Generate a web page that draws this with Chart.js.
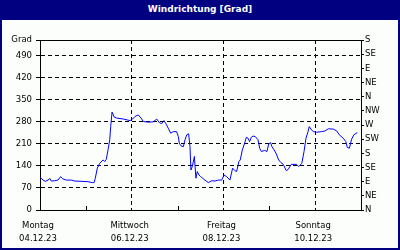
<!DOCTYPE html>
<html>
<head>
<meta charset="utf-8">
<script src="https://cdn.jsdelivr.net/npm/chart.js@4.4.0/dist/chart.umd.min.js"></script>
<style>
  body { margin: 0; }
  #frame { position: relative; width: 400px; height: 250px; background: #000080; overflow: hidden; }
  #head { position: absolute; left: 0; top: 0; width: 400px; height: 20px; text-align: center; color: #fff; font: bold 9px/19px "DejaVu Sans"; }
  #plot { position: absolute; left: 2px; top: 20px; width: 396px; height: 228px; background: #fcfefc; }
</style>
</head>
<body>
<div id="frame">
  <div id="head">Windrichtung [Grad]</div>
  <div id="plot"><canvas id="myChart" width="396" height="228"></canvas></div>
</div>
<script>
// Stunden ab Montag 04.12.23 00:00
const hours = [
  0, 1.6, 2.8, 4.2, 5.2, 5.9, 7.7, 9.4, 10.8, 11.9, 13.8, 16.4, 18.2, 21.6,
  25.1, 27.4, 28.3, 28.9, 30.0, 31.2, 33.0, 33.9, 34.7, 35.6, 36.5, 37.0, 37.7, 38.9, 40.1, 43.6, 47.1,
  48.5, 49.7, 51.4, 52.9, 54.1, 56.7, 59.3, 61.1, 62.4, 63.7, 64.9, 65.9, 67.1, 68.4, 69.8, 71.5,
  72.4, 72.9, 73.8, 75.0, 75.9, 76.8, 77.8, 78.5, 79.0, 79.7, 80.8, 81.6, 82.3, 83.2, 84.1, 85.1, 86.3,
  88.1, 89.9, 91.6, 93.3, 95.1, 96.3, 97.7, 99.4, 100.8, 102.0, 102.9, 104.1, 104.8, 105.9, 107.1,
  108.0, 108.9, 109.7, 110.6, 111.5, 112.7, 114.1, 115.0, 115.8, 117.6, 118.8, 119.7, 120.7, 121.4,
  122.5, 123.7, 124.9, 126.0, 127.3, 128.9, 129.9, 131.5, 134.3, 135.4, 137.0, 138.2, 139.2, 140.3,
  140.9, 141.8, 143.0, 144.8, 147.4, 149.1, 150.9, 153.5, 155.3, 156.6, 158.7, 160.1, 160.8, 161.9,
  163.1, 164.3, 166.1
];
// Windrichtung in Grad
const windDir = [
  104, 95, 91, 95, 100, 92, 93, 95, 106, 99, 95, 95, 92, 91,
  90, 87, 87, 100, 133, 148, 159, 154, 161, 191, 223, 265, 311, 295, 292, 289, 284,
  289, 297, 302, 292, 281, 279, 280, 289, 278, 274, 284, 274, 260, 244, 249, 249,
  233, 212, 204, 201, 223, 239, 242, 201, 127, 138, 170, 101, 122, 111, 106, 101, 95,
  87, 93, 92, 95, 95, 111, 106, 95, 133, 125, 122, 154, 159, 191, 212,
  231, 228, 217, 231, 235, 233, 223, 196, 186, 189, 186, 210, 214, 201,
  191, 178, 159, 151, 145, 125, 129, 145, 145, 138, 148, 186, 228, 249,
  265, 257, 249, 247, 249, 251, 258, 257, 251, 239, 228, 217, 199, 196,
  225, 239, 246
];
const leftTicks = [0, 70, 140, 210, 280, 350, 420, 490, 540];
const compass = ['N', 'NE', 'E', 'SE', 'S', 'SW', 'W', 'NW', 'N', 'NE', 'E', 'SE', 'S'];
const dayNames = ['Montag', 'Mittwoch', 'Freitag', 'Sonntag'];
const dayDates = ['04.12.23', '06.12.23', '08.12.23', '10.12.23'];

const font = { family: 'DejaVu Sans', size: 8.5 };
const dash = [4, 3];

// kleine Striche nach innen an den Tagen ohne Beschriftung
const innerTicks = {
  id: 'innerTicks',
  afterDraw(chart) {
    const sx = chart.scales.x, ctx = chart.ctx, bottom = chart.chartArea.bottom;
    ctx.save();
    ctx.strokeStyle = '#000';
    ctx.lineWidth = 1;
    sx.ticks.forEach(t => {
      if (t.value % 48 === 0 || t.value >= 168) return;
      const px = Math.round(sx.getPixelForValue(t.value)) + 0.5;
      ctx.beginPath();
      ctx.moveTo(px, bottom);
      ctx.lineTo(px, bottom - 4);
      ctx.stroke();
    });
    ctx.restore();
  }
};

const ctx = document.getElementById('myChart').getContext('2d');
new Chart(ctx, {
  type: 'line',
  data: {
    datasets: [{
      data: hours.map((h, i) => ({ x: h, y: windDir[i] })),
      borderColor: '#0000ff',
      borderWidth: 1,
      pointRadius: 0,
      tension: 0,
      fill: false
    }]
  },
  options: {
    responsive: false,
    animation: false,
    devicePixelRatio: 1,
    layout: { padding: { top: 20 } },
    plugins: { legend: { display: false }, tooltip: { enabled: false } },
    scales: {
      x: {
        type: 'linear', min: 0, max: 168,
        afterBuildTicks: s => {
          const t = [];
          for (let d = 0; d <= 7; d++) t.push({ value: d * 24 });
          s.ticks = t;
        },
        afterFit: s => { s.height = 38; },
        ticks: {
          callback: v => (v % 48 === 0 && v < 168) ? [dayNames[v / 48], dayDates[v / 48]] : '',
          color: '#000', font: { ...font, lineHeight: 1.55 }, padding: 9,
          maxRotation: 0, autoSkip: false, labelOffset: -2
        },
        grid: {
          color: c => (c.tick && c.tick.value % 48 === 0 && c.tick.value > 0 && c.tick.value < 168) ? '#000' : 'rgba(0,0,0,0)',
          drawTicks: false
        },
        border: { color: '#000', dash: dash }
      },
      y: {
        type: 'linear', position: 'left', min: 0, max: 540,
        afterBuildTicks: s => { s.ticks = leftTicks.map(v => ({ value: v })); },
        afterFit: s => { s.width = 38; },
        ticks: { callback: v => v === 540 ? 'Grad' : v, color: '#000', font: font, padding: 4, autoSkip: false },
        grid: { color: '#000', tickColor: '#000', tickLength: 4 },
        border: { color: '#000', dash: c => (c.tick && c.tick.value === 540) ? [] : dash }
      },
      y2: {
        type: 'linear', position: 'right', min: 0, max: 540,
        afterBuildTicks: s => { s.ticks = compass.map((_, i) => ({ value: i * 45 })); },
        afterFit: s => { s.width = 37; },
        ticks: { callback: (v, i) => compass[i], color: '#000', font: font, padding: 1, autoSkip: false },
        grid: { drawOnChartArea: false, tickColor: '#000', tickLength: 3 },
        border: { color: '#000' }
      }
    }
  },
  plugins: [innerTicks]
});
</script>
</body>
</html>
